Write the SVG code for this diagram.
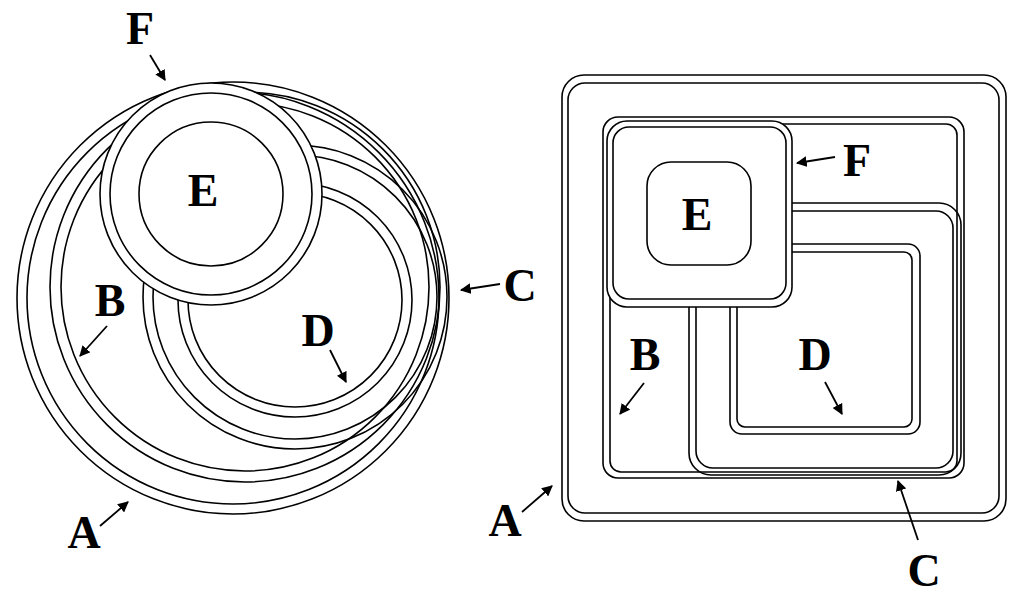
<svg xmlns="http://www.w3.org/2000/svg" width="1019" height="598" viewBox="0 0 1019 598">
<style>
.s{fill:none;stroke:#000;stroke-width:1.6}
.w{fill:#fff;stroke:#000;stroke-width:1.6}
.a{stroke:#000;stroke-width:1.8;fill:none;marker-end:url(#ah)}
text{font-family:"Liberation Serif","DejaVu Serif",serif;font-weight:bold;font-size:46px;fill:#000;text-anchor:middle}
</style>
<defs>
<marker id="ah" viewBox="0 0 10 10" refX="9" refY="5" markerWidth="6" markerHeight="6" orient="auto" markerUnits="strokeWidth">
<path d="M0,0 L10,5 L0,10 z" fill="#000"/>
</marker>
</defs>
<rect width="1019" height="598" fill="#fff"/>
<g id="left">
<g id="lA"><circle class="s" cx="233" cy="298" r="216"/><circle class="s" cx="233" cy="298" r="206"/></g>
<g id="lB"><circle class="s" cx="245" cy="287" r="195"/><circle class="s" cx="245" cy="287" r="184"/></g>
<g id="lC"><circle class="s" cx="295" cy="297" r="152"/><circle class="s" cx="295" cy="297" r="142"/></g>
<g id="lD"><circle class="s" cx="295" cy="300" r="117"/><circle class="s" cx="295" cy="300" r="107"/></g>
<g id="lF"><circle class="w" cx="211" cy="194" r="111"/><circle class="s" cx="211" cy="194" r="101"/></g>
<g id="lE"><circle class="s" cx="211" cy="194" r="72"/></g>
</g>
<g id="right">
<g id="rA"><rect class="s" x="562" y="75" width="444" height="446" rx="22"/><rect class="s" x="568" y="83" width="431" height="430" rx="17"/></g>
<g id="rB"><rect class="s" x="603" y="117" width="361" height="361" rx="15"/><rect class="s" x="610" y="124" width="347" height="348" rx="11"/></g>
<g id="rC"><rect class="s" x="689" y="203" width="272" height="272" rx="22"/><rect class="s" x="696" y="211" width="257" height="257" rx="17"/></g>
<g id="rD"><rect class="s" x="730" y="244" width="190" height="190" rx="12"/><rect class="s" x="737" y="252" width="175" height="175" rx="8"/></g>
<g id="rF"><rect class="w" x="607" y="121" width="185" height="186" rx="20"/><rect class="s" x="613" y="127" width="173" height="172" rx="16"/></g>
<g id="rE"><rect class="s" x="647" y="162" width="104" height="103" rx="24"/></g>
</g>
<g id="connectors">
<line class="a" x1="150" y1="55" x2="165" y2="80"/>
<line class="a" x1="107" y1="326" x2="80" y2="356"/>
<line class="a" x1="330" y1="350" x2="346" y2="382"/>
<line class="a" x1="500" y1="284" x2="461" y2="290"/>
<line class="a" x1="100" y1="526" x2="128" y2="502"/>
<line class="a" x1="835" y1="157" x2="797" y2="163"/>
<line class="a" x1="644" y1="383" x2="620" y2="414"/>
<line class="a" x1="825" y1="382" x2="842" y2="414"/>
<line class="a" x1="918" y1="540" x2="898" y2="481"/>
<line class="a" x1="522" y1="512" x2="552" y2="486"/>
</g>
<g id="labels">
<text x="140" y="44">F</text>
<text x="203" y="206">E</text>
<text x="110" y="316">B</text>
<text x="318" y="346">D</text>
<text x="520" y="301">C</text>
<text x="84" y="548">A</text>
<text x="857" y="176">F</text>
<text x="697" y="230">E</text>
<text x="645" y="370">B</text>
<text x="815" y="370">D</text>
<text x="924" y="586">C</text>
<text x="505" y="536">A</text>
</g>
</svg>
